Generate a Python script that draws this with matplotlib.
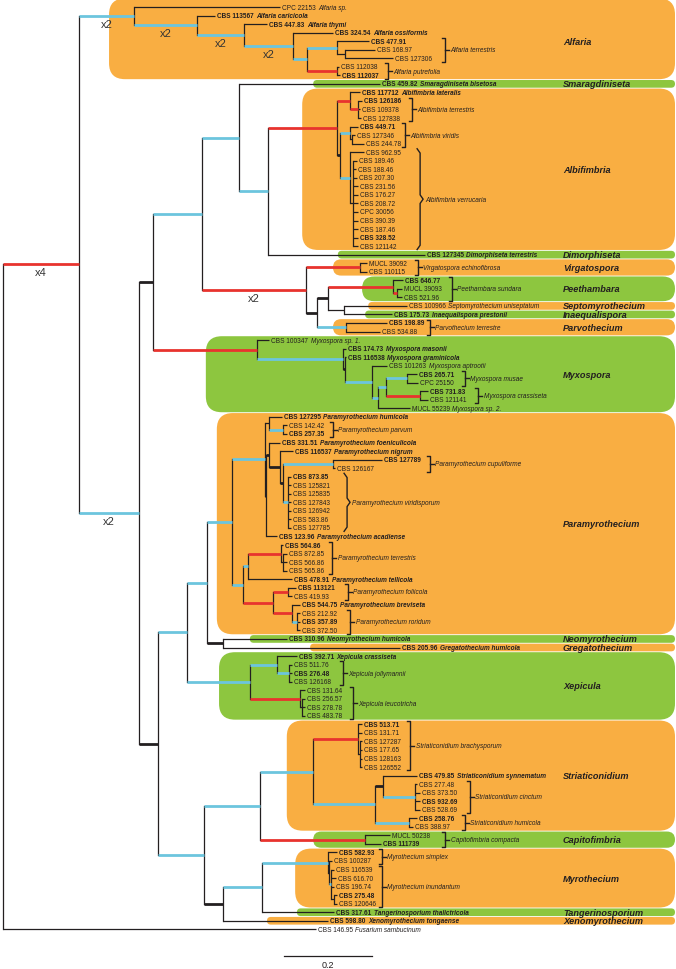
import matplotlib.pyplot as plt
from matplotlib.patches import FancyBboxPatch

plt.rcParams['font.family'] = ['Liberation Sans', 'DejaVu Sans']

# ---- tree: internal nodes (depth = substitutions per site from the root) ----
node_name = ['root', 'A', 'ALF', 'alf1', 'alf2', 'alf3', 'alf4', 'alfT', 'alfT2', 'alfP',
             'B', 'C', 'D', 'SMA', 'E', 'ALB', 'albL', 'albT', 'albV', 'albVi', 'albVi2', 'albVe', 'albVe2',
             'F', 'VIR', 'G', 'H', 'PEE', 'pee2', 'SI', 'PAR',
             'MYX', 'myx1', 'myx2', 'myx3', 'myx4', 'myx5', 'myxMu', 'myxCr',
             'I', 'J', 'K', 'PCR', 'P1', 'pHP', 'pPar', 'P2', 'pF', 'pN', 'pCV', 'pCup', 'pVir',
             'pL', 'pT1', 'pTer', 'pTer2', 'pFB', 'pFol', 'pBR', 'pRor', 'NG',
             'XEP', 'xep1', 'xJol', 'xLeu', 'xLeu2',
             'L', 'M', 'STR', 'sBra', 'sBra2', 's1', 's2', 'sCin', 'sHum', 'CAP',
             'N', 'O', 'MYR', 'myr2', 'mInu', 'mInu2']
node_parent = [None, 'root', 'A', 'ALF', 'alf1', 'alf2', 'alf3', 'alf4', 'alfT', 'alf4',
               'A', 'B', 'C', 'D', 'SMA', 'E', 'ALB', 'albL', 'ALB', 'albV', 'albVi', 'albV', 'albVe',
               'D', 'F', 'F', 'G', 'H', 'PEE', 'H', 'G',
               'C', 'MYX', 'myx1', 'myx2', 'myx3', 'myx4', 'myx5', 'myx5',
               'B', 'I', 'J', 'K', 'PCR', 'P1', 'pHP', 'P1', 'P2', 'pF', 'pN', 'pCV', 'pCV',
               'PCR', 'pL', 'pT1', 'pTer', 'pL', 'pFB', 'pFB', 'pBR', 'K',
               'J', 'XEP', 'xep1', 'XEP', 'xLeu',
               'I', 'L', 'M', 'STR', 'sBra', 'STR', 's1', 's2', 's1', 'M',
               'L', 'N', 'O', 'MYR', 'myr2', 'mInu']
node_depth = [0.0, 0.173, 0.298, 0.441, 0.548, 0.659, 0.691, 0.759, 0.777, 0.759,
              0.309, 0.341, 0.452, 0.536, 0.602, 0.759, 0.789, 0.807, 0.766, 0.789, 0.793, 0.789, 0.795,
              0.689, 0.811, 0.714, 0.739, 0.886, 0.895, 0.775, 0.780,
              0.577, 0.773, 0.777, 0.839, 0.852, 0.870, 0.918, 0.948,
              0.352, 0.418, 0.464, 0.520, 0.595, 0.605, 0.636, 0.598, 0.605, 0.630, 0.636, 0.750, 0.648,
              0.545, 0.557, 0.632, 0.636, 0.614, 0.648, 0.657, 0.668, 0.500,
              0.561, 0.623, 0.650, 0.675, 0.680,
              0.457, 0.584, 0.705, 0.807, 0.811, 0.845, 0.864, 0.936, 0.923, 0.823,
              0.500, 0.589, 0.739, 0.741, 0.745, 0.752]
# support class of the branch leading to the node: k plain, K thick, b blue, r red
node_col = ['k', 'r', 'b', 'b', 'b', 'b', 'b', 'b', 'k', 'r',
            'b', 'K', 'b', 'b', 'b', 'r', 'r', 'r', 'K', 'b', 'k', 'b', 'k',
            'r', 'r', 'K', 'K', 'r', 'r', 'k', 'b',
            'r', 'b', 'K', 'b', 'b', 'b', 'b', 'r',
            'K', 'b', 'b', 'b', 'b', 'k', 'b', 'K', 'K', 'K', 'K', 'b', 'b',
            'b', 'b', 'r', 'k', 'r', 'r', 'r', 'b', 'K',
            'b', 'b', 'b', 'r', 'k',
            'b', 'b', 'b', 'r', 'k', 'b', 'K', 'b', 'b', 'r',
            'K', 'b', 'b', 'k', 'b', 'k']
node_mult = {'A': 'x4', 'ALF': 'x2', 'alf1': 'x2', 'alf2': 'x2', 'alf3': 'x2', 'F': 'x2', 'B': 'x2'}

# ---- tips (top to bottom) ----
leaf_label = ['CPC 22153', 'CBS 113567', 'CBS 447.83', 'CBS 324.54', 'CBS 477.91', 'CBS 168.97',
              'CBS 127306', 'CBS 112038', 'CBS 112037',
              'CBS 459.82',
              'CBS 117712', 'CBS 126186', 'CBS 109378', 'CBS 127838', 'CBS 449.71', 'CBS 127346', 'CBS 244.78',
              'CBS 962.95', 'CBS 189.46', 'CBS 188.46', 'CBS 207.30', 'CBS 231.56', 'CBS 176.27',
              'CBS 208.72', 'CPC 30056', 'CBS 390.39', 'CBS 187.46', 'CBS 328.52', 'CBS 121142',
              'CBS 127345', 'MUCL 39092', 'CBS 110115', 'CBS 646.77', 'MUCL 39093', 'CBS 521.96',
              'CBS 100966', 'CBS 175.73', 'CBS 198.89', 'CBS 534.88',
              'CBS 100347', 'CBS 174.73', 'CBS 116538', 'CBS 101263', 'CBS 265.71', 'CPC 25150',
              'CBS 731.83', 'CBS 121141', 'MUCL 55239',
              'CBS 127295', 'CBS 142.42', 'CBS 257.35', 'CBS 331.51', 'CBS 116537', 'CBS 127789', 'CBS 126167',
              'CBS 873.85', 'CBS 125821', 'CBS 125835', 'CBS 127843', 'CBS 126942', 'CBS 583.86',
              'CBS 127785', 'CBS 123.96',
              'CBS 564.86', 'CBS 872.85', 'CBS 566.86', 'CBS 565.86', 'CBS 478.91', 'CBS 113121',
              'CBS 419.93', 'CBS 544.75', 'CBS 212.92', 'CBS 357.89', 'CBS 372.50',
              'CBS 310.96', 'CBS 205.96',
              'CBS 392.71', 'CBS 511.76', 'CBS 276.48', 'CBS 126168', 'CBS 131.64', 'CBS 256.57',
              'CBS 278.78', 'CBS 483.78',
              'CBS 513.71', 'CBS 131.71', 'CBS 127287', 'CBS 177.65', 'CBS 128163', 'CBS 126552',
              'CBS 479.85', 'CBS 277.48', 'CBS 373.50', 'CBS 932.69', 'CBS 528.69', 'CBS 258.76', 'CBS 388.97',
              'MUCL 50238', 'CBS 111739',
              'CBS 582.93', 'CBS 100287', 'CBS 116539', 'CBS 616.70', 'CBS 196.74', 'CBS 275.48', 'CBS 120646',
              'CBS 317.61', 'CBS 598.80', 'CBS 146.95']
leaf_parent = ['ALF', 'alf1', 'alf2', 'alf3', 'alfT', 'alfT2', 'alfT2', 'alfP', 'alfP',
               'SMA',
               'albL', 'albT', 'albT', 'albT', 'albVi', 'albVi2', 'albVi2',
               'albVe'] + ['albVe2'] * 11 + \
              ['E', 'VIR', 'VIR', 'PEE', 'pee2', 'pee2', 'SI', 'SI', 'PAR', 'PAR',
               'MYX', 'myx1', 'myx2', 'myx3', 'myxMu', 'myxMu', 'myxCr', 'myxCr', 'myx4',
               'pHP', 'pPar', 'pPar', 'pF', 'pN', 'pCup', 'pCup'] + ['pVir'] * 7 + \
              ['P2', 'pTer', 'pTer2', 'pTer2', 'pTer2', 'pT1', 'pFol', 'pFol', 'pBR', 'pRor', 'pRor', 'pRor',
               'NG', 'NG',
               'xep1', 'xJol', 'xJol', 'xJol', 'xLeu', 'xLeu2', 'xLeu2', 'xLeu2',
               'sBra', 'sBra', 'sBra2', 'sBra2', 'sBra2', 'sBra2', 's2', 'sCin', 'sCin', 'sCin', 'sCin',
               'sHum', 'sHum', 'CAP', 'CAP',
               'MYR', 'myr2', 'mInu', 'mInu', 'mInu', 'mInu2', 'mInu2',
               'O', 'N', 'root']
leaf_depth = [0.630, 0.482, 0.600, 0.750, 0.832, 0.845, 0.886, 0.764, 0.766,
              0.857,
              0.811, 0.816, 0.811, 0.814, 0.807, 0.800, 0.820,
              0.820, 0.805, 0.802, 0.805, 0.807, 0.807, 0.807, 0.807, 0.807, 0.807, 0.807, 0.807,
              0.959, 0.827, 0.827, 0.909, 0.907, 0.907, 0.918, 0.884, 0.873, 0.857,
              0.605, 0.780, 0.780, 0.873, 0.941, 0.943, 0.966, 0.966, 0.925,
              0.634, 0.645, 0.645, 0.630, 0.659, 0.861, 0.755,
              0.655, 0.655, 0.655, 0.655, 0.655, 0.655, 0.655, 0.623,
              0.636, 0.645, 0.645, 0.645, 0.657, 0.666, 0.657, 0.675, 0.675, 0.675, 0.675,
              0.645, 0.902,
              0.668, 0.657, 0.657, 0.657, 0.686, 0.686, 0.686, 0.686,
              0.816, 0.816, 0.816, 0.816, 0.816, 0.816, 0.941, 0.941, 0.948, 0.948, 0.948, 0.941, 0.932,
              0.880, 0.859,
              0.759, 0.748, 0.752, 0.757, 0.752, 0.759, 0.759,
              0.752, 0.739, 0.711]
bold_tips = {1, 2, 3, 4, 8, 9, 10, 11, 14, 27, 29, 32, 36, 37, 40, 41, 43, 45, 48, 50, 51, 52, 53,
             55, 62, 63, 67, 68, 70, 72, 74, 75, 76, 78, 84, 90, 93, 95, 98, 99, 104, 106, 107}
leaf_species = {0: 'Alfaria sp.', 1: 'Alfaria caricicola', 2: 'Alfaria thymi', 3: 'Alfaria ossiformis',
                9: 'Smaragdiniseta bisetosa', 10: 'Albifimbria lateralis', 29: 'Dimorphiseta terrestris',
                35: 'Septomyrothecium uniseptatum', 36: 'Inaequalispora prestonii',
                39: 'Myxospora sp. 1.', 40: 'Myxospora masonii', 41: 'Myxospora graminicola',
                42: 'Myxospora aptrootii', 47: 'Myxospora sp. 2.',
                48: 'Paramyrothecium humicola', 51: 'Paramyrothecium foeniculicola',
                52: 'Paramyrothecium nigrum', 62: 'Paramyrothecium acadiense',
                67: 'Paramyrothecium tellicola', 70: 'Paramyrothecium breviseta',
                74: 'Neomyrothecium humicola', 75: 'Gregatothecium humicola', 76: 'Xepicula crassiseta',
                90: 'Striaticonidium synnematum', 106: 'Tangerinosporium thalictricola',
                107: 'Xenomyrothecium tongaense', 108: 'Fusarium sambucinum'}

# species grouped by a bracket: name, first tip, last tip
brk_name = ['Alfaria terrestris', 'Alfaria putrefolia', 'Albifimbria terrestris', 'Albifimbria viridis',
            'Albifimbria verrucaria', 'Virgatospora echinofibrosa', 'Peethambara sundara',
            'Parvothecium terrestre', 'Myxospora musae', 'Myxospora crassiseta',
            'Paramyrothecium parvum', 'Paramyrothecium cupuliforme', 'Paramyrothecium viridisporum',
            'Paramyrothecium terrestris', 'Paramyrothecium foliicola', 'Paramyrothecium roridum',
            'Xepicula jollymannii', 'Xepicula leucotricha', 'Striaticonidium brachysporum',
            'Striaticonidium cinctum', 'Striaticonidium humicola', 'Capitofimbria compacta',
            'Myrothecium simplex', 'Myrothecium inundantum']
brk_first = [4, 7, 11, 14, 17, 30, 32, 37, 43, 45, 49, 53, 55, 63, 68, 71, 77, 80, 84, 91, 95, 97, 99, 101]
brk_last = [6, 8, 13, 16, 28, 31, 34, 38, 44, 46, 50, 54, 61, 66, 69, 73, 79, 83, 89, 94, 96, 98, 100, 105]

# genera shaded behind the tree
genus = ['Alfaria', 'Smaragdiniseta', 'Albifimbria', 'Dimorphiseta', 'Virgatospora', 'Peethambara',
         'Septomyrothecium', 'Inaequalispora', 'Parvothecium', 'Myxospora', 'Paramyrothecium',
         'Neomyrothecium', 'Gregatothecium', 'Xepicula', 'Striaticonidium', 'Capitofimbria',
         'Myrothecium', 'Tangerinosporium', 'Xenomyrothecium']
genus_first = [0, 9, 10, 29, 30, 32, 35, 36, 37, 39, 48, 74, 75, 76, 84, 97, 99, 106, 107]
genus_last = [8, 9, 28, 29, 31, 34, 35, 36, 38, 47, 73, 74, 75, 83, 96, 98, 105, 106, 107]
genus_col = ['o', 'g', 'o', 'g', 'o', 'g', 'o', 'g', 'o', 'g', 'o', 'g', 'o', 'g', 'o', 'g', 'o', 'g', 'o']

# ---- layout (tree units) ----
box_left = [0.241, 0.705, 0.680, 0.761, 0.750, 0.816, 0.830, 0.823, 0.750, 0.461, 0.486,
            0.561, 0.698, 0.491, 0.645, 0.705, 0.664, 0.668, 0.600]
brk_x = [1.005, 0.875, 0.930, 0.914, 0.948, 0.943, 1.020, 0.970, 1.050, 1.080, 0.750, 0.970,
         0.782, 0.748, 0.784, 0.789, 0.773, 0.795, 0.925, 1.061, 1.050, 1.005, 0.861, 0.861]

W, H = 676, 970
PX = 440.0   # pixels per unit of branch length
ROW = 8.54   # pixels per tip
X0, Y0 = 3, 8

fig = plt.figure(figsize=(W / 100, H / 100), dpi=100)
ax = fig.add_axes([0, 0, 1, 1])
ax.set_xlim(-X0 / PX, (W - X0) / PX)
ax.set_ylim((H - Y0) / ROW, -Y0 / ROW)
ax.axis('off')

INK = '#231f20'
STYLE = {'k': (INK, 0.9), 'K': (INK, 2.0), 'b': ('#6cc5de', 2.0), 'r': ('#e8332e', 2.0)}
FILL = {'o': '#f9ae42', 'g': '#8dc63f'}

# boxes
x_right = (W - 1 - X0) / PX
for g, a, b, c, xl in zip(genus, genus_first, genus_last, genus_col, box_left):
    top = a - 0.45 - (0.55 if a == 0 else 0)
    bot = b + 0.45
    r = min(16, (bot - top) * ROW / 2) / PX
    ax.add_patch(FancyBboxPatch((xl, top), x_right - xl, bot - top,
                                boxstyle='round,pad=0,rounding_size=%f' % r,
                                mutation_aspect=PX / ROW, fc=FILL[c], ec='none', zorder=0))
    ax.text((563 - X0) / PX, (a + b) / 2, g, fontsize=6.6, fontweight='bold', fontstyle='italic',
            color=INK, va='center', ha='left', zorder=4)

# tree geometry
depth = dict(zip(node_name, node_depth))
kids = {n: [] for n in node_name}
for n, p in zip(node_name, node_parent):
    if p is not None:
        kids[p].append(('n', n))
for i, p in enumerate(leaf_parent):
    kids[p].append(('l', i))

ypos = {}


def place(n):
    ys = [c if k == 'l' else place(c) for k, c in kids[n]]
    ypos[n] = (min(ys) + max(ys)) / 2
    ax.plot([depth[n], depth[n]], [min(ys), max(ys)], color=INK, lw=0.9,
            solid_capstyle='projecting', zorder=2)
    return ypos[n]


place('root')

for n, p, c in zip(node_name, node_parent, node_col):
    if p is None:
        continue
    col, lw = STYLE[c]
    ax.plot([depth[p], depth[n]], [ypos[n], ypos[n]], color=col, lw=lw,
            solid_capstyle='butt', zorder=3 if c != 'k' else 2)
    if n in node_mult:
        ax.text((depth[p] + depth[n]) / 2, ypos[n] + 0.35, node_mult[n], fontsize=8,
                color='#333333', ha='center', va='top', zorder=4)

tip_text = []
for i, lab in enumerate(leaf_label):
    p = leaf_parent[i]
    ax.plot([depth[p], leaf_depth[i]], [i, i], color=INK, lw=0.9, solid_capstyle='butt', zorder=2)
    t = ax.annotate(lab, (leaf_depth[i], i), xytext=(1.6, 0), textcoords='offset points',
                    fontsize=4.7, fontweight='bold' if i in bold_tips else 'normal',
                    color=INK, va='center', ha='left', zorder=4)
    tip_text.append(t)
    if i in leaf_species:
        ax.annotate(leaf_species[i], xy=(1, 0.5), xycoords=t, xytext=(1.6, 0),
                    textcoords='offset points', fontsize=4.7, fontstyle='italic',
                    fontweight='bold' if i in bold_tips else 'normal',
                    color=INK, va='center', ha='left', zorder=4)

# brackets around species with several strains
fig.canvas.draw()
rend = fig.canvas.get_renderer()
inv = ax.transData.inverted()
tick = 3 / PX
for name, a, b, bx in zip(brk_name, brk_first, brk_last, brk_x):
    right = max(tip_text[i].get_window_extent(rend).x1 for i in range(a, b + 1))
    right = inv.transform((right, 0))[0]
    bx = max(bx, right + 3 / PX)
    top, bot, mid = a - 0.4, b + 0.4, (a + b) / 2
    if b - a >= 6:
        xs = [bx - tick, bx, bx, bx + tick, bx, bx, bx - tick]
        ys = [top, top + 0.5, mid - 0.5, mid, mid + 0.5, bot - 0.5, bot]
        lx = bx + tick + 2 / PX
    else:
        xs = [bx - tick, bx, bx, bx - tick]
        ys = [top, top, bot, bot]
        ax.plot([bx, bx + 4 / PX], [mid, mid], color=INK, lw=1.0, zorder=3)
        lx = bx + 5.5 / PX
    ax.plot(xs, ys, color=INK, lw=1.0, zorder=3)
    ax.text(lx, mid, name, fontsize=4.7, fontstyle='italic', color=INK,
            va='center', ha='left', zorder=4)

# scale bar
sx, sy = (284 - X0) / PX, (957 - Y0) / ROW
ax.plot([sx, sx + 0.2], [sy, sy], color=INK, lw=0.9)
ax.text(sx + 0.1, (966 - Y0) / ROW, '0.2', fontsize=6.5, color=INK, ha='center', va='center')

fig.savefig('out.png', dpi=100)
